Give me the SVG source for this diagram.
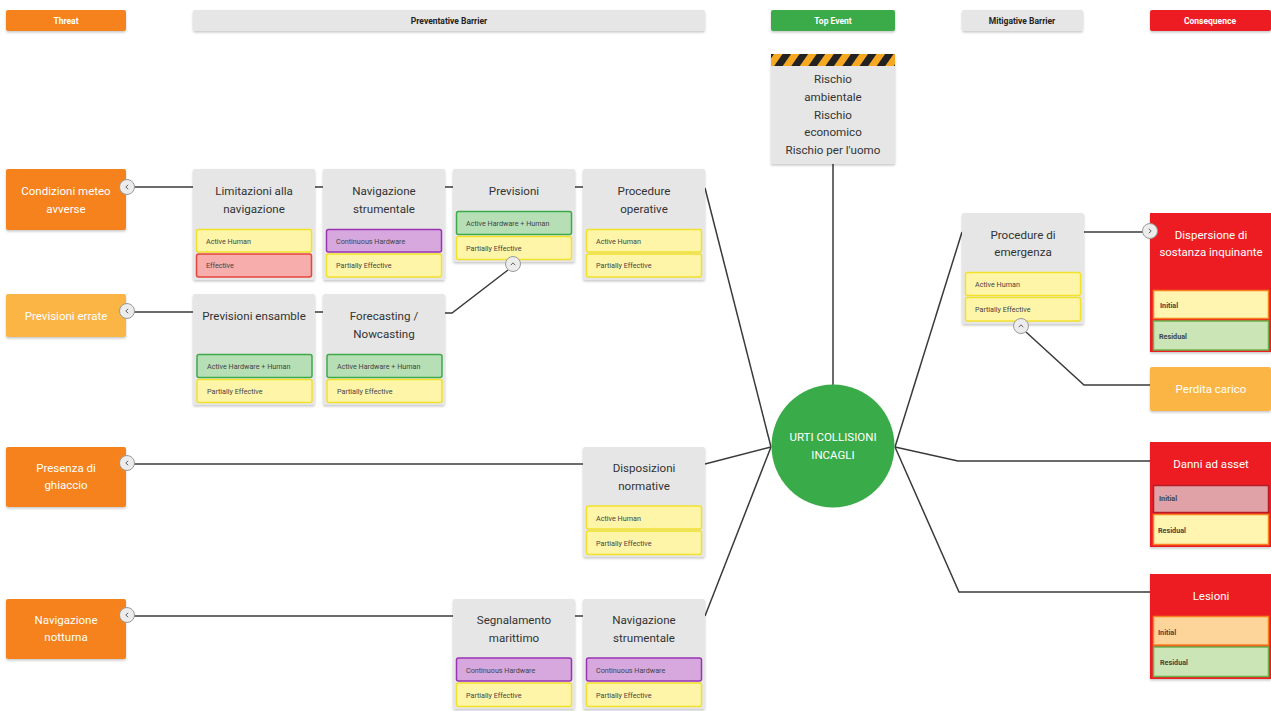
<svg xmlns="http://www.w3.org/2000/svg" width="1271" height="711" viewBox="0 0 1271 711">
  <defs>
    <filter id="shadow" x="-10%" y="-10%" width="120%" height="130%">
      <feDropShadow dx="0" dy="1.5" stdDeviation="1" flood-color="#000" flood-opacity="0.22"/>
    </filter>
    <pattern id="hazard" width="14" height="14" patternUnits="userSpaceOnUse" patternTransform="rotate(35)">
      <rect width="14" height="14" fill="#f7a823"/>
      <rect width="7" height="14" fill="#222"/>
    </pattern>
    <symbol id="btnLeft" viewBox="-8 -8 16 16" overflow="visible">
      <circle r="7.5" fill="#ececec" stroke="#9a9a9a" stroke-width="1"/>
      <path d="M1.2,-2.2 L-1.2,0 L1.2,2.2" fill="none" stroke="#555" stroke-width="0.9"/>
    </symbol>
    <symbol id="btnRight" viewBox="-8 -8 16 16" overflow="visible">
      <circle r="7.5" fill="#ececec" stroke="#9a9a9a" stroke-width="1"/>
      <path d="M-1.2,-2.2 L1.2,0 L-1.2,2.2" fill="none" stroke="#555" stroke-width="0.9"/>
    </symbol>
    <symbol id="btnUp" viewBox="-8 -8 16 16" overflow="visible">
      <circle r="7.5" fill="#ececec" stroke="#9a9a9a" stroke-width="1"/>
      <path d="M-2.2,1.2 L0,-1.2 L2.2,1.2" fill="none" stroke="#555" stroke-width="0.9"/>
    </symbol>
  </defs>
  <style>
    text { font-family: Roboto, "Liberation Sans", sans-serif; }
    .hdr { font-size: 8.5px; font-weight: bold; text-anchor: middle; }
    .hdr-w { fill: #ffffff; }
    .hdr-d { fill: #222222; }
    .card { fill: #e6e6e6; filter: url(#shadow); }
    .title { font-size: 11.6px; fill: #333333; text-anchor: middle; }
    .wtitle { font-size: 11.5px; fill: #ffffff; text-anchor: middle; }
    .attr { font-size: 7.2px; fill: #444444; }
    .yellow { fill: #fff5a8; stroke: #f2e12a; stroke-width: 1.5; }
    .green { fill: #b6dfb6; stroke: #3daa4a; stroke-width: 1.5; }
    .purple { fill: #d6a8de; stroke: #9b33b5; stroke-width: 1.5; }
    .red { fill: #f6adab; stroke: #e8443c; stroke-width: 1.5; }
    .c-yellow { fill: #fff5b0; stroke: #f5821f; stroke-width: 1.5; }
    .c-green { fill: #cbe5b6; stroke: #6bb24b; stroke-width: 1.5; }
    .c-pink { fill: #e0a2a7; stroke: #b51c27; stroke-width: 1.5; }
    .c-orange { fill: #fdd59a; stroke: #f5821f; stroke-width: 1.5; }
    .threat { fill: #f5821f; filter: url(#shadow); }
    .threat-lt { fill: #fbb545; filter: url(#shadow); }
    .conseq { fill: #ec1c24; filter: url(#shadow); }
    .link { fill: none; stroke: #3a3a3a; stroke-width: 1.5; }
  </style>

  <rect width="1271" height="711" fill="#ffffff"/>

  <!-- column headers -->
  <g id="headers">
    <rect x="6" y="10" width="120" height="21" rx="2" class="threat"/>
    <text x="66" y="23.5" class="hdr hdr-w">Threat</text>
    <rect x="193" y="10" width="512" height="21" rx="2" class="card"/>
    <text x="449" y="23.5" class="hdr hdr-d">Preventative Barrier</text>
    <rect x="771" y="10" width="124" height="21" rx="2" fill="#3aab49" filter="url(#shadow)"/>
    <text x="833" y="23.5" class="hdr hdr-w">Top Event</text>
    <rect x="962" y="10" width="121" height="21" rx="2" class="card"/>
    <text x="1022" y="23.5" class="hdr hdr-d">Mitigative Barrier</text>
    <rect x="1150" y="10" width="121" height="21" rx="2" class="conseq"/>
    <text x="1210" y="23.5" class="hdr hdr-w">Consequence</text>
  </g>

  <!-- connectors -->
  <g id="connectors">
    <line x1="833" y1="164" x2="833" y2="386" class="link"/>
    <!-- threat side -->
    <line x1="134" y1="187" x2="193" y2="187" class="link"/>
    <line x1="315" y1="187" x2="323" y2="187" class="link"/>
    <line x1="445" y1="187" x2="453" y2="187" class="link"/>
    <line x1="575" y1="187" x2="583" y2="187" class="link"/>
    <line x1="705" y1="188" x2="771" y2="447" class="link"/>
    <line x1="134" y1="312" x2="193" y2="312" class="link"/>
    <line x1="315" y1="312" x2="323" y2="312" class="link"/>
    <polyline points="445,313 452,313 508,270" class="link"/>
    <line x1="134" y1="464" x2="583" y2="464" class="link"/>
    <line x1="705" y1="464" x2="771" y2="447" class="link"/>
    <line x1="134" y1="616" x2="453" y2="616" class="link"/>
    <line x1="575" y1="616" x2="583" y2="616" class="link"/>
    <line x1="705" y1="616" x2="771" y2="447" class="link"/>
    <!-- consequence side -->
    <line x1="895" y1="447" x2="962" y2="232" class="link"/>
    <line x1="1084" y1="232" x2="1143" y2="232" class="link"/>
    <polyline points="1150,385 1084,385 1026,332" class="link"/>
    <polyline points="895,447 958,461 1150,461" class="link"/>
    <polyline points="895,447 959,592 1150,592" class="link"/>
  </g>

  <!-- top event -->
  <g id="top-event-box">
    <rect x="771" y="54" width="124" height="110" class="card"/>
    <rect x="771" y="54" width="124" height="12" fill="url(#hazard)"/>
    <text x="833" y="83" class="title">Rischio</text>
    <text x="833" y="101" class="title">ambientale</text>
    <text x="833" y="118.5" class="title">Rischio</text>
    <text x="833" y="136" class="title">economico</text>
    <text x="833" y="154" class="title">Rischio per l'uomo</text>
  </g>
  <g id="top-event">
    <circle cx="833" cy="446" r="61.5" fill="#3aab49"/>
    <text x="833" y="441" class="wtitle">URTI COLLISIONI</text>
    <text x="833" y="459" class="wtitle">INCAGLI</text>
  </g>

  <!-- threats -->
  <g id="threat-meteo">
    <rect x="6" y="169" width="120" height="61" rx="2" class="threat"/>
    <text x="66" y="195" class="wtitle">Condizioni meteo</text>
    <text x="66" y="213" class="wtitle">avverse</text>
    <use href="#btnLeft" x="119" y="179" width="16" height="16"/>
  </g>
  <g id="threat-previsioni">
    <rect x="6" y="294" width="120" height="43" rx="2" class="threat-lt"/>
    <text x="66" y="320" class="wtitle">Previsioni errate</text>
    <use href="#btnLeft" x="119" y="303" width="16" height="16"/>
  </g>
  <g id="threat-ghiaccio">
    <rect x="6" y="447" width="120" height="60" rx="2" class="threat"/>
    <text x="66" y="472" class="wtitle">Presenza di</text>
    <text x="66" y="489" class="wtitle">ghiaccio</text>
    <use href="#btnLeft" x="119" y="455" width="16" height="16"/>
  </g>
  <g id="threat-notturna">
    <rect x="6" y="599" width="120" height="60" rx="2" class="threat"/>
    <text x="66" y="624" class="wtitle">Navigazione</text>
    <text x="66" y="641" class="wtitle">notturna</text>
    <use href="#btnLeft" x="119" y="607" width="16" height="16"/>
  </g>

  <!-- preventative barriers -->
  <g id="barrier-limitazioni">
    <rect x="193" y="169" width="122" height="111" rx="2" class="card"/>
    <text x="254" y="195" class="title">Limitazioni alla</text>
    <text x="254" y="213" class="title">navigazione</text>
    <rect x="196.5" y="229.5" width="115" height="22.5" rx="2" class="yellow"/>
    <text x="206" y="243.5" class="attr">Active Human</text>
    <rect x="196.5" y="254" width="115" height="23" rx="2" class="red"/>
    <text x="206" y="268" class="attr">Effective</text>
  </g>
  <g id="barrier-navigazione-1">
    <rect x="323" y="169" width="122" height="111" rx="2" class="card"/>
    <text x="384" y="195" class="title">Navigazione</text>
    <text x="384" y="213" class="title">strumentale</text>
    <rect x="326.5" y="229.5" width="115" height="22.5" rx="2" class="purple"/>
    <text x="336" y="243.5" class="attr">Continuous Hardware</text>
    <rect x="326.5" y="254" width="115" height="23" rx="2" class="yellow"/>
    <text x="336" y="268" class="attr">Partially Effective</text>
  </g>
  <g id="barrier-previsioni">
    <rect x="453" y="169" width="122" height="93" rx="2" class="card"/>
    <text x="514" y="195" class="title">Previsioni</text>
    <rect x="456.5" y="211.5" width="115" height="23" rx="2" class="green"/>
    <text x="466" y="226" class="attr">Active Hardware + Human</text>
    <rect x="456.5" y="236.5" width="115" height="23" rx="2" class="yellow"/>
    <text x="466" y="251" class="attr">Partially Effective</text>
    <use href="#btnUp" x="505" y="256" width="16" height="16"/>
  </g>
  <g id="barrier-procedure-operative">
    <rect x="583" y="169" width="122" height="111" rx="2" class="card"/>
    <text x="644" y="195" class="title">Procedure</text>
    <text x="644" y="213" class="title">operative</text>
    <rect x="586.5" y="229.5" width="115" height="22.5" rx="2" class="yellow"/>
    <text x="596" y="243.5" class="attr">Active Human</text>
    <rect x="586.5" y="254" width="115" height="23" rx="2" class="yellow"/>
    <text x="596" y="268" class="attr">Partially Effective</text>
  </g>
  <g id="barrier-ensamble">
    <rect x="193" y="294" width="122" height="111" rx="2" class="card"/>
    <text x="254" y="320" class="title">Previsioni ensamble</text>
    <rect x="197" y="354.5" width="115" height="23" rx="2" class="green"/>
    <text x="207" y="369" class="attr">Active Hardware + Human</text>
    <rect x="197" y="379.5" width="115" height="23" rx="2" class="yellow"/>
    <text x="207" y="394" class="attr">Partially Effective</text>
  </g>
  <g id="barrier-forecasting">
    <rect x="323" y="294" width="122" height="111" rx="2" class="card"/>
    <text x="384" y="320" class="title">Forecasting /</text>
    <text x="384" y="338" class="title">Nowcasting</text>
    <rect x="327" y="354.5" width="115" height="23" rx="2" class="green"/>
    <text x="337" y="369" class="attr">Active Hardware + Human</text>
    <rect x="327" y="379.5" width="115" height="23" rx="2" class="yellow"/>
    <text x="337" y="394" class="attr">Partially Effective</text>
  </g>
  <g id="barrier-disposizioni">
    <rect x="583" y="447" width="122" height="110" rx="2" class="card"/>
    <text x="644" y="472" class="title">Disposizioni</text>
    <text x="644" y="490" class="title">normative</text>
    <rect x="586.5" y="506" width="115" height="23" rx="2" class="yellow"/>
    <text x="596" y="520.5" class="attr">Active Human</text>
    <rect x="586.5" y="531" width="115" height="23.5" rx="2" class="yellow"/>
    <text x="596" y="545.5" class="attr">Partially Effective</text>
  </g>
  <g id="barrier-segnalamento">
    <rect x="453" y="599" width="122" height="110" rx="2" class="card"/>
    <text x="514" y="624" class="title">Segnalamento</text>
    <text x="514" y="642" class="title">marittimo</text>
    <rect x="456.5" y="658" width="115" height="23" rx="2" class="purple"/>
    <text x="466" y="672.5" class="attr">Continuous Hardware</text>
    <rect x="456.5" y="683" width="115" height="23.5" rx="2" class="yellow"/>
    <text x="466" y="697.5" class="attr">Partially Effective</text>
  </g>
  <g id="barrier-navigazione-2">
    <rect x="583" y="599" width="122" height="110" rx="2" class="card"/>
    <text x="644" y="624" class="title">Navigazione</text>
    <text x="644" y="642" class="title">strumentale</text>
    <rect x="586.5" y="658" width="115" height="23" rx="2" class="purple"/>
    <text x="596" y="672.5" class="attr">Continuous Hardware</text>
    <rect x="586.5" y="683" width="115" height="23.5" rx="2" class="yellow"/>
    <text x="596" y="697.5" class="attr">Partially Effective</text>
  </g>

  <!-- mitigative barrier -->
  <g id="barrier-emergenza">
    <rect x="962" y="213" width="122" height="111" rx="2" class="card"/>
    <text x="1023" y="239" class="title">Procedure di</text>
    <text x="1023" y="256" class="title">emergenza</text>
    <rect x="965.5" y="272.5" width="115" height="23" rx="2" class="yellow"/>
    <text x="975" y="287" class="attr">Active Human</text>
    <rect x="965.5" y="297.5" width="115" height="23.5" rx="2" class="yellow"/>
    <text x="975" y="312" class="attr">Partially Effective</text>
    <use href="#btnUp" x="1013" y="318" width="16" height="16"/>
  </g>

  <!-- consequences -->
  <g id="conseq-dispersione">
    <rect x="1150" y="213" width="121" height="139" class="conseq"/>
    <text x="1211" y="239" class="wtitle">Dispersione di</text>
    <text x="1211" y="256" class="wtitle">sostanza inquinante</text>
    <rect x="1153.5" y="290.5" width="115" height="28" class="c-yellow"/>
    <text x="1160" y="308" class="attr" font-weight="bold">Initial</text>
    <rect x="1153.5" y="321" width="115" height="29" class="c-green"/>
    <text x="1159" y="339" class="attr" font-weight="bold">Residual</text>
    <use href="#btnRight" x="1142" y="223" width="16" height="16"/>
  </g>
  <g id="conseq-perdita">
    <rect x="1150" y="367" width="121" height="44" rx="2" class="threat-lt"/>
    <text x="1211" y="393" class="wtitle">Perdita carico</text>
  </g>
  <g id="conseq-danni">
    <rect x="1150" y="442" width="121" height="105" class="conseq"/>
    <text x="1211" y="468" class="wtitle">Danni ad asset</text>
    <rect x="1153.5" y="485.5" width="115" height="27" class="c-pink"/>
    <text x="1159" y="501" class="attr" font-weight="bold">Initial</text>
    <rect x="1153.5" y="514.5" width="115" height="30" class="c-yellow"/>
    <text x="1158" y="533" class="attr" font-weight="bold">Residual</text>
  </g>
  <g id="conseq-lesioni">
    <rect x="1150" y="574" width="121" height="105" class="conseq"/>
    <text x="1211" y="600" class="wtitle">Lesioni</text>
    <rect x="1153.5" y="616.5" width="115" height="28.5" class="c-orange"/>
    <text x="1158" y="635" class="attr" font-weight="bold">Initial</text>
    <rect x="1153.5" y="647" width="115" height="29.5" class="c-green"/>
    <text x="1160" y="665" class="attr" font-weight="bold">Residual</text>
  </g>
</svg>
